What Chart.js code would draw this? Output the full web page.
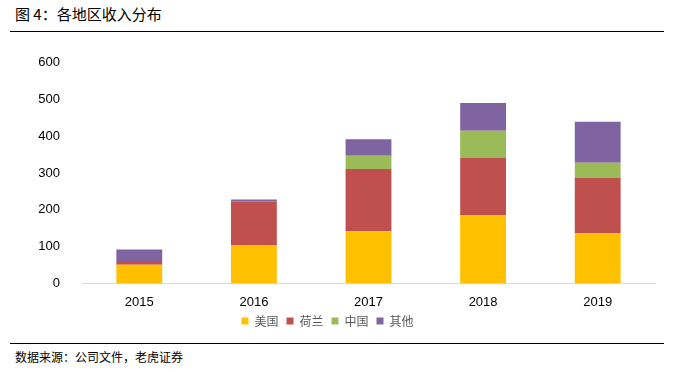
<!DOCTYPE html>
<html><head><meta charset="utf-8">
<script src="https://cdn.jsdelivr.net/npm/chart.js@4/dist/chart.umd.min.js"></script>
<style>
html,body{margin:0;padding:0;background:#fff;width:682px;height:372px;overflow:hidden;}
#title{position:absolute;left:15px;top:3px;font:15px "Noto Sans CJK SC",sans-serif;color:#000;white-space:nowrap;}
#l1{position:absolute;left:10px;top:31px;width:654px;height:1px;background:#000;}
#l2{position:absolute;left:10px;top:343px;width:654px;height:1px;background:#000;}
#src{position:absolute;left:15px;top:348px;font:12px "Noto Sans CJK SC",sans-serif;color:#000;white-space:nowrap;}
#wrap{position:absolute;left:0;top:41px;width:682px;height:296px;}
</style></head><body>
<div id="title">图 4：各地区收入分布</div>
<div id="l1"></div>
<div id="wrap"><canvas id="c"></canvas></div>
<div id="l2"></div>
<div id="src">数据来源：公司文件，老虎证券</div>
<script>
const categories = ["2015","2016","2017","2018","2019"];
const usa = [51,103,142,186,137];
const netherlands = [10,120,169,155,150];
const china = [0,0,36,74,41];
const others = [31,5,45,76,112];
const seriesNames = ["美国","荷兰","中国","其他"];
const colors = ["#FFC000","#C0504D","#9BBB59","#8064A2"];
const vals = [usa, netherlands, china, others];

new Chart(document.getElementById('c'), {
  type: 'bar',
  data: {
    labels: categories,
    datasets: vals.map((v,i)=>({label:seriesNames[i], data:v, backgroundColor:colors[i], borderWidth:0, barPercentage:0.8, categoryPercentage:0.5}))
  },
  options: {
    responsive:true, maintainAspectRatio:false, animation:false,
    layout:{padding:{top:15,right:27,left:0,bottom:0}},
    plugins:{
      legend:{position:'bottom', labels:{boxWidth:7, boxHeight:7, padding:8, color:'#595959', font:{family:'"Noto Sans CJK SC"', size:12}}},
      tooltip:{enabled:false}
    },
    scales:{
      x:{stacked:true, grid:{display:false}, border:{color:'#d9d9d9'}, ticks:{color:'#000', font:{family:'"Liberation Sans"', size:13}, padding:3},
         afterFit:(s)=>{s.height = s.height - 6;}},
      y:{stacked:true, min:0, max:600, grid:{display:false}, border:{display:false},
         ticks:{stepSize:100, color:'#000', font:{family:'"Liberation Sans"', size:13}, padding:14},
         afterFit:(s)=>{s.width=82;}}
    }
  }
});
</script>
</body></html>
